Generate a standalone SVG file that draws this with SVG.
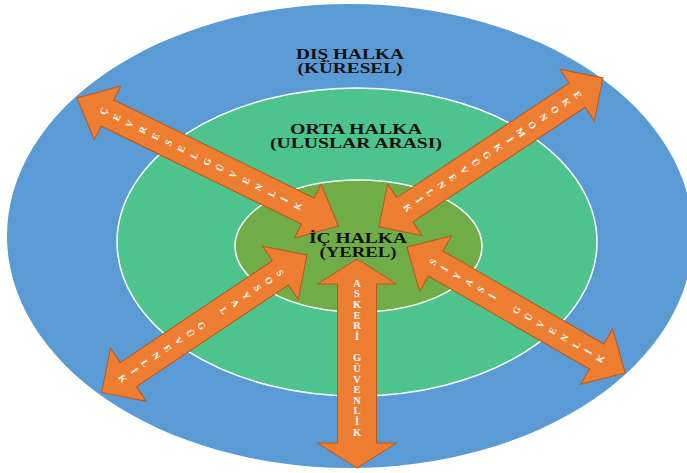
<svg xmlns="http://www.w3.org/2000/svg" width="687" height="473" viewBox="0 0 687 473">
<style>
.ring{stroke:#ffffff;stroke-width:1.5}
.arr{fill:#ED7D31;stroke:#B85A1E;stroke-width:1}
.lbl{font-family:"Liberation Serif","Times New Roman",serif;font-weight:bold;font-size:14px;fill:#111111;text-anchor:middle}
.st{font-family:"Liberation Serif","Times New Roman",serif;font-weight:bold;font-size:9.5px;fill:#ffffff;text-anchor:middle}
</style>
<rect width="687" height="473" fill="#ffffff"/>
<g id="rings">
<ellipse id="outer" cx="350" cy="236" rx="343" ry="232" fill="#5B9BD5"/>
<ellipse id="middle" class="ring" cx="357" cy="242" rx="240" ry="154" fill="#4DC38D"/>
<ellipse id="inner" class="ring" cx="358.5" cy="246" rx="123.5" ry="66" fill="#70AD47"/>
</g>
<g id="connectors">
<g id="arrow-cevresel" transform="translate(77,98) rotate(26.1)">
<polygon class="arr" points="0,0 34,-30 34,-14.5 257,-14.5 257,-30 291,0 257,30 257,14.5 34,14.5 34,30"/>
<g transform="rotate(-90)"><text class="st"><tspan x="0" y="33">Ç</tspan><tspan x="0" y="47.4">E</tspan><tspan x="0" y="61.8">V</tspan><tspan x="0" y="76.2">R</tspan><tspan x="0" y="90.6">E</tspan><tspan x="0" y="105">S</tspan><tspan x="0" y="119.4">E</tspan><tspan x="0" y="133.8">L</tspan><tspan x="0" y="148.2">G</tspan><tspan x="0" y="162.6">Ü</tspan><tspan x="0" y="177">V</tspan><tspan x="0" y="191.4">E</tspan><tspan x="0" y="205.8">N</tspan><tspan x="0" y="220.2">L</tspan><tspan x="0" y="234.6">İ</tspan><tspan x="0" y="249">K</tspan></text></g>
</g>
<g id="arrow-ekonomik" transform="translate(603,78) rotate(146.4)">
<polygon class="arr" points="0,0 31,-31 31,-14.5 238,-14.5 238,-31 269,0 238,31 238,14.5 31,14.5 31,31"/>
<g transform="rotate(-90)"><text class="st"><tspan x="0" y="33.7">E</tspan><tspan x="0" y="47.3">K</tspan><tspan x="0" y="60.9">O</tspan><tspan x="0" y="74.5">N</tspan><tspan x="0" y="88.1">O</tspan><tspan x="0" y="101.7">M</tspan><tspan x="0" y="115.3">İ</tspan><tspan x="0" y="128.9">K</tspan><tspan x="0" y="142.5">G</tspan><tspan x="0" y="156.1">Ü</tspan><tspan x="0" y="169.7">V</tspan><tspan x="0" y="183.3">E</tspan><tspan x="0" y="196.9">N</tspan><tspan x="0" y="210.5">L</tspan><tspan x="0" y="224.1">İ</tspan><tspan x="0" y="237.7">K</tspan></text></g>
</g>
<g id="arrow-sosyal" transform="translate(307,255) rotate(146.2)">
<polygon class="arr" points="0,0 32,-32 32,-14.5 215,-14.5 215,-32 247,0 215,32 215,14.5 32,14.5 32,32"/>
<g transform="rotate(-90)"><text class="st"><tspan x="0" y="35.4">S</tspan><tspan x="0" y="49">O</tspan><tspan x="0" y="62.5">S</tspan><tspan x="0" y="76.1">Y</tspan><tspan x="0" y="89.6">A</tspan><tspan x="0" y="103.2">L</tspan><tspan x="0" y="130.3">G</tspan><tspan x="0" y="143.8">Ü</tspan><tspan x="0" y="157.4">V</tspan><tspan x="0" y="170.9">E</tspan><tspan x="0" y="184.5">N</tspan><tspan x="0" y="198">L</tspan><tspan x="0" y="211.6">İ</tspan><tspan x="0" y="225.1">K</tspan></text></g>
</g>
<g id="arrow-siyasi" transform="translate(407,247) rotate(30)">
<polygon class="arr" points="0,0 33,-32 33,-14.5 219,-14.5 219,-32 252,0 219,32 219,14.5 33,14.5 33,32"/>
<g transform="rotate(-90)"><text class="st"><tspan x="0" y="33.2">S</tspan><tspan x="0" y="47">İ</tspan><tspan x="0" y="60.8">Y</tspan><tspan x="0" y="74.6">A</tspan><tspan x="0" y="88.4">S</tspan><tspan x="0" y="102.2">İ</tspan><tspan x="0" y="129.8">G</tspan><tspan x="0" y="143.6">Ü</tspan><tspan x="0" y="157.4">V</tspan><tspan x="0" y="171.2">E</tspan><tspan x="0" y="185">N</tspan><tspan x="0" y="198.8">L</tspan><tspan x="0" y="212.6">İ</tspan><tspan x="0" y="226.4">K</tspan></text></g>
</g>
<g id="arrow-askeri" transform="translate(357,259) rotate(90)">
<polygon class="arr" points="0,0 25,-39.5 25,-19.5 184,-19.5 184,-39.5 209,0 184,39.5 184,19.5 25,19.5 25,39.5"/>
<g transform="rotate(-90)"><text class="st" style="font-size:10.5px"><tspan x="0" y="27.8">A</tspan><tspan x="0" y="38.4">S</tspan><tspan x="0" y="49">K</tspan><tspan x="0" y="59.7">E</tspan><tspan x="0" y="70.3">R</tspan><tspan x="0" y="81">İ</tspan><tspan x="0" y="102.3">G</tspan><tspan x="0" y="112.9">Ü</tspan><tspan x="0" y="123.5">V</tspan><tspan x="0" y="134.2">E</tspan><tspan x="0" y="144.8">N</tspan><tspan x="0" y="155.4">L</tspan><tspan x="0" y="166.1">İ</tspan><tspan x="0" y="176.7">K</tspan></text></g>
</g>
</g>
<g id="label-dis">
<text class="lbl" x="350" y="59" textLength="108" lengthAdjust="spacingAndGlyphs">DIŞ HALKA</text>
<text class="lbl" x="350" y="73" textLength="105" lengthAdjust="spacingAndGlyphs">(KÜRESEL)</text>
</g>
<g id="label-orta">
<text class="lbl" x="356" y="134" textLength="132" lengthAdjust="spacingAndGlyphs">ORTA HALKA</text>
<text class="lbl" x="356" y="148" textLength="172" lengthAdjust="spacingAndGlyphs">(ULUSLAR ARASI)</text>
</g>
<g id="label-ic">
<text class="lbl" x="358" y="243" textLength="98" lengthAdjust="spacingAndGlyphs">İÇ HALKA</text>
<text class="lbl" x="358" y="257" textLength="77" lengthAdjust="spacingAndGlyphs">(YEREL)</text>
</g>
</svg>
